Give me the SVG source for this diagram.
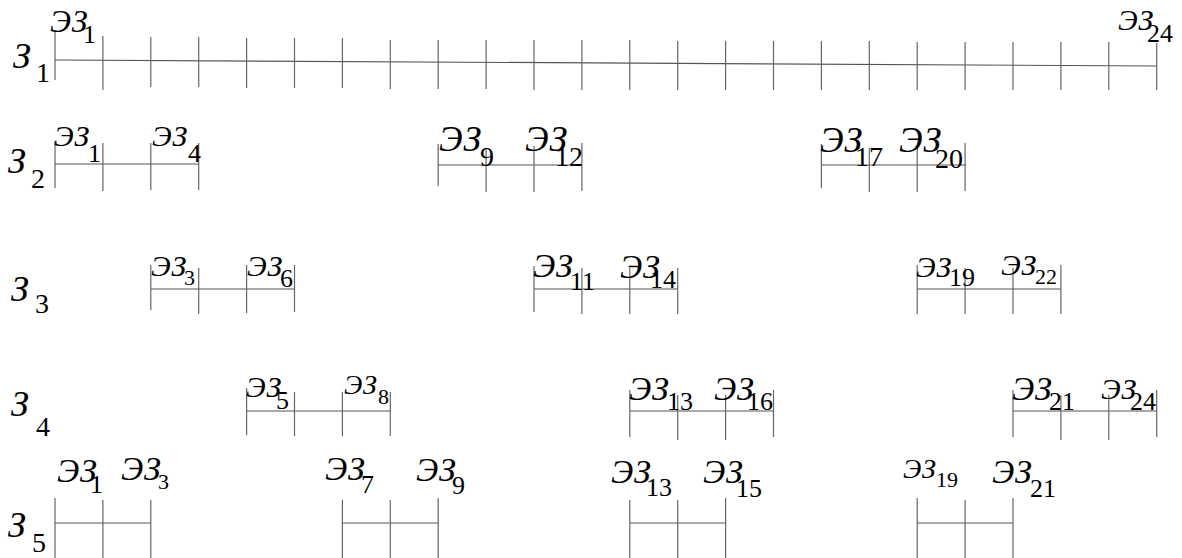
<svg xmlns="http://www.w3.org/2000/svg" width="1182" height="558" viewBox="0 0 1182 558">
<style>
.ln{stroke:#555;stroke-width:1.2;fill:none}
.tk{stroke:#666;stroke-width:1.2;fill:none}
text{font-family:"Liberation Serif","Times New Roman","DejaVu Serif",serif;fill:#000}
.r{font-size:36px;font-style:italic}
.rs{font-size:28px}
.e{font-size:32px;font-style:italic}
.es{font-size:26px}
.s22{font-size:22px}
.s24{font-size:24px}
.s28{font-size:28px}
.s30{font-size:30px}
.s34{font-size:34px}
.s36{font-size:36px}
</style>
<rect width="1182" height="558" fill="#fff"/>

<g id="row1">
<text class="r" x="13" y="68">З</text><text class="rs" x="36" y="82">1</text>
<line class="ln" x1="55" y1="60" x2="1157" y2="66"/>
<path class="tk" d="M55,32V80 M102.9,36V90 M150.8,37V87 M198.7,37V87 M246.6,38V88 M294.5,38V88 M342.4,38V88 M390.3,40V89 M438.2,40V89 M486.1,40V89 M534,40V90 M581.9,40V90 M629.8,40V90 M677.7,41V90 M725.6,41V90 M773.5,41V90 M821.4,41V90 M869.3,41V90 M917.2,42V90 M965.1,42V90 M1013,42V90 M1060.9,42V90 M1108.8,42V90 M1156.7,43V90"/>
<text class="e" x="50" y="32">ЭЗ</text><text class="es" x="83" y="43">1</text>
<text class="e s30" x="1118" y="30">ЭЗ</text><text class="es" x="1147" y="42">24</text>
</g>

<g id="row2">
<text class="r" x="8" y="173">З</text><text class="rs" x="31" y="188">2</text>
<line class="ln" x1="55" y1="164" x2="199" y2="164"/>
<path class="tk" d="M55,141V188 M102.9,143V191 M150.8,143V190 M198.7,143V190"/>
<text class="e s30" x="54" y="146">ЭЗ</text><text class="es" x="88" y="162">1</text>
<text class="e s30" x="152" y="146">ЭЗ</text><text class="es" x="188" y="162">4</text>
<line class="ln" x1="438" y1="165" x2="582" y2="165"/>
<path class="tk" d="M438.2,144V186 M486.1,148V192 M534,146V192 M581.9,143V191"/>
<text class="e s36" x="439" y="151">ЭЗ</text><text class="es s28" x="480" y="166">9</text>
<text class="e s36" x="525" y="151">ЭЗ</text><text class="es s28" x="555" y="166">12</text>
<line class="ln" x1="821" y1="165" x2="966" y2="165"/>
<path class="tk" d="M821.4,144V188 M869.3,148V192 M917.2,146V192 M965.1,143V191"/>
<text class="e s36" x="820" y="152">ЭЗ</text><text class="es s28" x="855" y="166">17</text>
<text class="e s36" x="899" y="152">ЭЗ</text><text class="es s28" x="935" y="168">20</text>
</g>

<g id="row3">
<text class="r" x="11" y="301">З</text><text class="rs" x="35" y="313">3</text>
<line class="ln" x1="151" y1="289" x2="295" y2="289"/>
<path class="tk" d="M150.8,265V310 M198.7,268V314 M246.6,265V313 M294.5,265V312"/>
<text class="e s30" x="151" y="276">ЭЗ</text><text class="es s22" x="184" y="285">3</text>
<text class="e s30" x="247" y="276">ЭЗ</text><text class="es" x="280" y="287">6</text>
<line class="ln" x1="534" y1="289" x2="678" y2="289"/>
<path class="tk" d="M534,266V312 M581.9,268V314 M629.8,268V314 M677.7,268V314"/>
<text class="e s34" x="533" y="277">ЭЗ</text><text class="es" x="570" y="290">11</text>
<text class="e s34" x="620" y="278">ЭЗ</text><text class="es" x="650" y="288">14</text>
<line class="ln" x1="917" y1="289" x2="1061" y2="289"/>
<path class="tk" d="M917.2,265V314 M965.1,268V314 M1013,268V314 M1060.9,265V314"/>
<text class="e s30" x="916" y="277">ЭЗ</text><text class="es" x="949" y="286">19</text>
<text class="e s30" x="1001" y="275">ЭЗ</text><text class="es s22" x="1035" y="284">22</text>
</g>

<g id="row4">
<text class="r" x="11" y="416">З</text><text class="rs" x="36" y="436">4</text>
<line class="ln" x1="247" y1="411" x2="391" y2="411"/>
<path class="tk" d="M246.6,388V435 M294.5,392V436 M342.4,392V436 M390.3,392V436"/>
<text class="e s30" x="246" y="397">ЭЗ</text><text class="es" x="276" y="409">5</text>
<text class="e s28" x="344" y="394">ЭЗ</text><text class="es s22" x="378" y="404">8</text>
<line class="ln" x1="630" y1="411" x2="774" y2="411"/>
<path class="tk" d="M629.8,390V437 M677.7,395V440 M725.6,395V440 M773.5,390V437"/>
<text class="e s34" x="629" y="400">ЭЗ</text><text class="es" x="667" y="410">13</text>
<text class="e s34" x="714" y="400">ЭЗ</text><text class="es" x="747" y="410">16</text>
<line class="ln" x1="1013" y1="411" x2="1157" y2="411"/>
<path class="tk" d="M1013,390V437 M1060.9,395V440 M1108.8,395V440 M1156.7,390V437"/>
<text class="e s34" x="1012" y="400">ЭЗ</text><text class="es" x="1049" y="410">21</text>
<text class="e s30" x="1101" y="399">ЭЗ</text><text class="es" x="1130" y="410">24</text>
</g>

<g id="row5">
<text class="r" x="8" y="537">З</text><text class="rs" x="32" y="552">5</text>
<line class="ln" x1="55" y1="523" x2="151" y2="523"/>
<path class="tk" d="M55,498V558 M102.9,500V558 M150.8,500V558"/>
<text class="e s34" x="57" y="482">ЭЗ</text><text class="es" x="90" y="493">1</text>
<text class="e s34" x="121" y="480">ЭЗ</text><text class="es s22" x="158" y="489">3</text>
<line class="ln" x1="342" y1="523" x2="438" y2="523"/>
<path class="tk" d="M342.4,500V558 M390.3,500V558 M438.2,498V558"/>
<text class="e s34" x="325" y="480">ЭЗ</text><text class="es" x="361" y="493">7</text>
<text class="e s34" x="416" y="481">ЭЗ</text><text class="es" x="452" y="494">9</text>
<line class="ln" x1="630" y1="523" x2="726" y2="523"/>
<path class="tk" d="M629.8,500V558 M677.7,500V558 M725.6,498V558"/>
<text class="e s34" x="611" y="483">ЭЗ</text><text class="es" x="646" y="496">13</text>
<text class="e s34" x="703" y="483">ЭЗ</text><text class="es" x="736" y="497">15</text>
<line class="ln" x1="917" y1="523" x2="1013" y2="523"/>
<path class="tk" d="M917.2,498V558 M965.1,500V558 M1013,498V558"/>
<text class="e s28" x="903" y="478">ЭЗ</text><text class="es s22" x="936" y="487">19</text>
<text class="e s34" x="992" y="483">ЭЗ</text><text class="es" x="1030" y="497">21</text>
</g>
</svg>
